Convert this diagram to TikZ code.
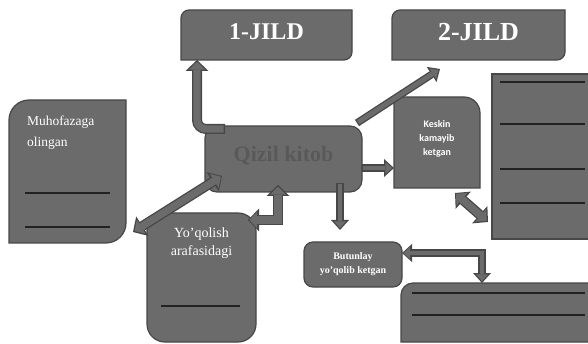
\documentclass[tikz,border=0pt]{standalone}
\usepackage{fontspec}
\setmainfont{Liberation Serif}
\newfontfamily\condfont{Carlito}
\usetikzlibrary{arrows.meta,backgrounds}

\definecolor{boxgray}{HTML}{6B6B6B}
\definecolor{edgegray}{HTML}{474747}
\definecolor{rulegray}{HTML}{222222}
\definecolor{titlegray}{HTML}{595959}

% box with round top left and bottom right corners
\newcommand{\diagbox}[2]{%
  \draw[boxline] (#1.west) [rounded corners=#2] -- (#1.north west) -- (#1.north)
    [sharp corners] -- (#1.north east) -- (#1.east)
    [rounded corners=#2] -- (#1.south east) -- (#1.south)
    [sharp corners] -- (#1.south west) -- cycle;}

\tikzset{
  box/.style={inner sep=0pt, outer sep=0pt},
  boxline/.style={draw=edgegray, fill=boxgray, line width=1.2pt},
  roundbox/.style={box, boxline},
  rule/.style={draw=rulegray, line width=1.2pt},
  jildtext/.style={text=white, font=\fontsize{#1}{26}\selectfont\bfseries, text depth=6pt},
  arrout/.style={line width=7.5pt, draw=edgegray,
    >={Triangle[width=18pt,length=10pt,line width=0pt]}},
  arrin/.style={line width=4.9pt, draw=boxgray, shorten >=1.9pt, shorten <=1.3pt,
    >={Triangle[width=12.2pt,length=6.8pt,line width=0pt]}},
  arroutb/.style={line width=10pt, draw=edgegray,
    >={Triangle[width=23pt,length=11pt,line width=0pt]}},
  arrinb/.style={line width=7.4pt, draw=boxgray, shorten >=1.8pt, shorten <=1.3pt,
    >={Triangle[width=16.5pt,length=7.9pt,line width=0pt]}},
}

\begin{document}
\begin{tikzpicture}[x=1pt, y=-1pt]
\useasboundingbox (0,0) rectangle (588,344);

\node[box, jildtext=24, minimum width=171pt, minimum height=50pt] (jild1) at (266.5,35) {1-JILD};
\node[box, jildtext=26, minimum width=173pt, minimum height=50pt] (jild2) at (478.5,35) {2-JILD};
\node[box, minimum width=117pt, minimum height=143pt] (muho) at (67.5,171.5) {};
\node[roundbox, rounded corners=12pt, minimum width=157pt, minimum height=66pt,
  text=titlegray, font=\fontsize{22}{24}\selectfont\bfseries, text depth=11pt] (qizil) at (283.5,159) {Qizil kitob};
\node[box, minimum width=86pt, minimum height=91pt] (keskin) at (437,142.5) {};
\node[box, minimum width=100pt, minimum height=165pt] (rbox) at (542,156.5) {};
\node[roundbox, rounded corners=9pt, minimum width=98pt, minimum height=45pt, text=white,
  align=center, font=\fontsize{10}{14}\selectfont\bfseries] (butun) at (353,264.5) {Butunlay\\yo’qolib ketgan};
\node[roundbox, rounded corners=18pt, minimum width=109pt, minimum height=129pt] (yoqol) at (201.5,277.5) {};
\node[box, minimum width=191pt, minimum height=59pt] (lbox) at (496.5,312.5) {};

\node[box, text=white, align=left, anchor=north west, font=\fontsize{13.5}{21}\selectfont]
  (muhotxt) at ([xshift=18pt,yshift=-16pt]muho.north west) {Muhofazaga\\olingan};
\node[box, text=white, align=center, anchor=north, font=\fontsize{14}{18}\selectfont]
  (yoqtxt) at ([yshift=-15pt]yoqol.north) {Yo’qolish\\arafasidagi};
\node[box, text=white, align=center, anchor=north, font=\condfont\fontsize{10}{14}\selectfont\bfseries]
  (kestxt) at ([yshift=-23pt]keskin.north) {Keskin\\kamayib\\ketgan};

\begin{pgfonlayer}{background}
\diagbox{jild1}{8pt}
\diagbox{jild2}{8pt}
\diagbox{muho}{20pt}
\draw[boxline] (keskin.south) -- (keskin.south west) -- (keskin.west)
  [rounded corners=3pt] -- (keskin.north west) -- (keskin.north)
  [rounded corners=16pt] -- (keskin.north east) -- (keskin.east)
  [sharp corners] -- (keskin.south east) -- cycle;
\draw[boxline] (rbox.north west) rectangle (rbox.south east);
\draw[boxline] (lbox.south) -- (lbox.south west) -- (lbox.west)
  [rounded corners=12pt] -- (lbox.north west) -- (lbox.north)
  [sharp corners] -- (lbox.north east) -- (lbox.south east) -- cycle;
\end{pgfonlayer}

% lines for writing in
\foreach \y in {193,227} \draw[rule] (25,\y) -- (110,\y);
\draw[rule] (161,306) -- (240,306);
\foreach \y in {82,124,169,203} \draw[rule] (500,\y) -- (585,\y);
\foreach \y in {293,315} \draw[rule] (412,\y) -- (585,\y);

% block arrows
\foreach \s in {arroutb,arrinb}
  \draw[\s, ->, rounded corners=9pt] ([xshift=20pt,yshift=-3pt]qizil.north west) -| ([xshift=16pt]jild1.south west);
\foreach \s in {arrout,arrin}
  \draw[\s, ->] ([xshift=-5pt,yshift=3pt]qizil.north east) -- ([xshift=48pt,yshift=-9pt]jild2.south west);
\foreach \s in {arrout,arrin}
  \draw[\s, ->] ([yshift=-9pt]qizil.east) -- ([yshift=-25.5pt]keskin.west);
\foreach \s in {arroutb,arrinb}
  \draw[\s, <->] ([xshift=18pt,yshift=-5pt]keskin.south) -- ([xshift=-4pt,yshift=17pt]rbox.south west);
\foreach \s in {arrout,arrin}
  \draw[\s, ->] ([xshift=-22pt,yshift=9pt]qizil.south east) -- ([xshift=-13pt,yshift=12pt]butun.north);
\foreach \s in {arroutb,arrinb}
  \draw[\s, <->] ([xshift=17pt,yshift=16pt]qizil.south west) -- ([xshift=7pt,yshift=11pt]muho.south east);
\foreach \s in {arroutb,arrinb}
  \draw[\s, <->] ([xshift=-8pt,yshift=-7pt]yoqol.north east) -| ([xshift=-5.5pt,yshift=7pt]qizil.south);
\foreach \s in {arrout,arrin}
  \draw[\s, <->] ([yshift=11.5pt]butun.east) -| ([xshift=81pt]lbox.north west);
\end{tikzpicture}
\end{document}
